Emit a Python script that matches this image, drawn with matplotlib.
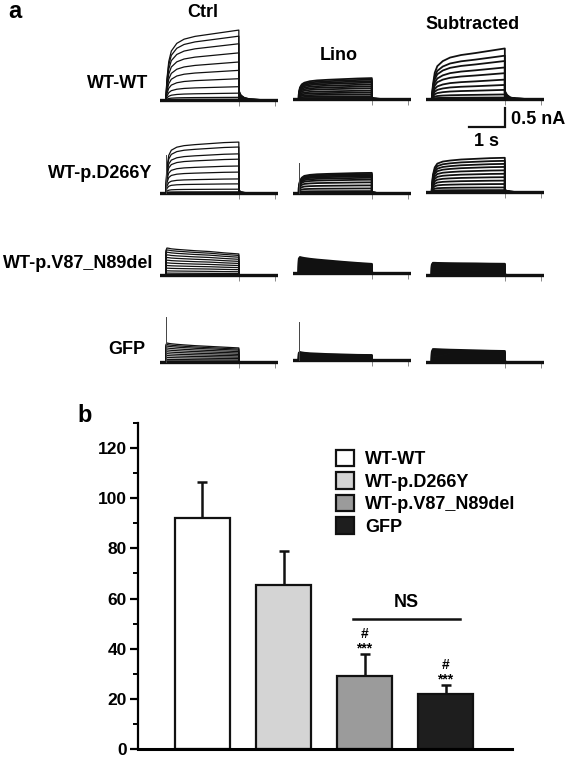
import matplotlib
matplotlib.use("Agg")
import matplotlib.pyplot as plt
from matplotlib.ticker import MultipleLocator
from matplotlib.patches import Patch

plt.rcParams['font.family'] = ['Liberation Sans', 'DejaVu Sans']
plt.rcParams['font.weight'] = 'bold'

# ---------------- data: panel a (current traces, nA vs s) ----------------
row_labels = ['WT-WT', 'WT-p.D266Y', 'WT-p.V87_N89del', 'GFP']
col_titles = ['Ctrl', 'Lino', 'Subtracted']

# shared time points of the voltage-step protocol (s)
t_pts = [-0.16, 0.0, 0.0, 0.03, 0.08, 0.15, 0.3, 0.5, 0.8, 1.2, 1.6, 2.0,
         2.0, 2.06, 2.15, 2.3, 2.6, 3.07]

# normalised time courses (one per panel)
wt_ctrl_shape = [0, 0, 0.02, 0.3, 0.55, 0.7, 0.81, 0.87, 0.91, 0.94, 0.97, 1.0,
                 0.14, 0.07, 0.035, 0.015, 0.005, 0]
wt_lino_shape = [0, 0, 0.25, 0.55, 0.7, 0.78, 0.85, 0.89, 0.92, 0.95, 0.98, 1.0,
                 0.05, 0.02, 0.01, 0, 0, 0]
wt_sub_shape = [0, 0, 0.02, 0.28, 0.52, 0.65, 0.75, 0.82, 0.87, 0.91, 0.955, 1.0,
                0.16, 0.08, 0.03, 0.01, 0, 0]
d266y_ctrl_shape = [0, 0, 0.1, 0.5, 0.74, 0.84, 0.9, 0.93, 0.95, 0.97, 0.99, 1.0,
                    0.06, 0.02, 0.01, 0, 0, 0]
d266y_lino_shape = [0, 0, 0.3, 0.6, 0.76, 0.85, 0.9, 0.93, 0.95, 0.97, 0.99, 1.0,
                    0.04, 0.02, 0, 0, 0, 0]
d266y_sub_shape = [0, 0, 0.1, 0.5, 0.72, 0.83, 0.89, 0.92, 0.95, 0.97, 0.99, 1.0,
                   0.06, 0.03, 0.01, 0, 0, 0]
v87_ctrl_shape = [0, 0, 0.9, 1.0, 0.99, 0.97, 0.95, 0.93, 0.9, 0.87, 0.82, 0.78,
                  0.02, 0.01, 0, 0, 0, 0]
v87_lino_shape = [0, 0, 0.9, 1.0, 0.97, 0.94, 0.89, 0.84, 0.78, 0.7, 0.63, 0.57,
                  0.01, 0, 0, 0, 0, 0]
v87_sub_shape = [0, 0, 0.85, 1.0, 1.0, 0.99, 0.98, 0.97, 0.96, 0.95, 0.93, 0.92,
                 0.02, 0, 0, 0, 0, 0]
gfp_ctrl_shape = [0, 0, 0.9, 1.0, 0.98, 0.96, 0.93, 0.9, 0.86, 0.82, 0.78, 0.74,
                  0.02, 0, 0, 0, 0, 0]
gfp_lino_shape = [0, 0, 0.9, 1.0, 0.95, 0.9, 0.84, 0.8, 0.74, 0.69, 0.64, 0.62,
                  0.01, 0, 0, 0, 0, 0]
gfp_sub_shape = [0, 0, 0.8, 1.0, 1.0, 0.99, 0.97, 0.95, 0.93, 0.9, 0.87, 0.85,
                 0.02, 0, 0, 0, 0, 0]

# amplitudes (nA) of each trace in the family
wt_ctrl_amps = [1.84, 1.68, 1.48, 1.24, 1.0, 0.78, 0.56, 0.35, 0.18, 0.07, 0.02, 0.0]
wt_lino_amps = [0.55, 0.51, 0.47, 0.43, 0.38, 0.33, 0.28, 0.22, 0.17, 0.12, 0.07, 0.03, 0.0]
wt_sub_amps = [1.33, 1.14, 1.0, 0.83, 0.68, 0.51, 0.37, 0.24, 0.12, 0.04, 0.0]
d266y_ctrl_amps = [1.34, 1.21, 1.03, 0.89, 0.71, 0.55, 0.37, 0.24, 0.1, 0.03, 0.0]
d266y_lino_amps = [0.53, 0.5, 0.47, 0.44, 0.4, 0.35, 0.28, 0.2, 0.12, 0.05, 0.0]
d266y_sub_amps = [0.9, 0.82, 0.74, 0.66, 0.57, 0.48, 0.39, 0.3, 0.21, 0.12, 0.05, 0.0]
v87_ctrl_amps = [0.71, 0.66, 0.6, 0.53, 0.46, 0.39, 0.32, 0.25, 0.18, 0.11, 0.05, 0.0]
v87_lino_amps = [0.42, 0.39, 0.36, 0.33, 0.3, 0.27, 0.24, 0.21, 0.18, 0.15, 0.12, 0.09, 0.06, 0.03, 0.0]
v87_sub_amps = [0.32, 0.3, 0.28, 0.26, 0.24, 0.22, 0.2, 0.17, 0.14, 0.11, 0.08, 0.05, 0.02, 0.0]
gfp_ctrl_amps = [0.5, 0.46, 0.42, 0.37, 0.32, 0.27, 0.22, 0.17, 0.12, 0.07, 0.03, 0.0]
gfp_lino_amps = [0.21, 0.19, 0.17, 0.15, 0.13, 0.11, 0.09, 0.07, 0.05, 0.03, 0.01, 0.0]
gfp_sub_amps = [0.34, 0.31, 0.28, 0.25, 0.22, 0.19, 0.16, 0.13, 0.1, 0.07, 0.04, 0.0]

# capacitive transient heights (nA) at step onset
spike_heights = [[0, 0, 0], [1.0, 0.79, 0], [0, 0, 0], [1.18, 1.0, 0]]

scale_time = 1.0   # s
scale_current = 0.5  # nA

# ---------------- data: panel b (bar chart) ----------------
groups = ['WT-WT', 'WT-p.D266Y', 'WT-p.V87_N89del', 'GFP']
means = [92.0, 65.5, 29.0, 22.0]
sems = [14.4, 13.5, 9.0, 3.6]
bar_colors = ['#ffffff', '#d4d4d4', '#9b9b9b', '#1e1e1e']
stars = ['', '', '***', '***']
hashes = ['', '', '#', '#']
ns_y = 51.8
ns_span = (1.86, 3.18)

# ---------------- figure ----------------
W, H = 566, 758
fig = plt.figure(figsize=(W / 100, H / 100), dpi=100)


def fx(px):
    return px / W


def fy(py):
    return 1 - py / H


PX_PER_S = 36.5
PX_PER_NA = 38.0
XLIM = (-0.16, 3.07)
YLIM = (-0.15, 2.0)
ax_w = (XLIM[1] - XLIM[0]) * PX_PER_S
ax_h = (YLIM[1] - YLIM[0]) * PX_PER_NA

col_left = [160, 293, 426]
baselines = [[100, 99, 99], [193, 193, 192], [275, 273, 275], [362, 360, 362]]
shapes = [[wt_ctrl_shape, wt_lino_shape, wt_sub_shape],
          [d266y_ctrl_shape, d266y_lino_shape, d266y_sub_shape],
          [v87_ctrl_shape, v87_lino_shape, v87_sub_shape],
          [gfp_ctrl_shape, gfp_lino_shape, gfp_sub_shape]]
amps = [[wt_ctrl_amps, wt_lino_amps, wt_sub_amps],
        [d266y_ctrl_amps, d266y_lino_amps, d266y_sub_amps],
        [v87_ctrl_amps, v87_lino_amps, v87_sub_amps],
        [gfp_ctrl_amps, gfp_lino_amps, gfp_sub_amps]]
line_w = [[0.9, 1.3, 1.3], [0.9, 1.3, 1.3], [0.9, 1.4, 1.4], [0.9, 1.4, 1.4]]

for r in range(4):
    for c in range(3):
        base = baselines[r][c]
        bottom_px = base - YLIM[0] * PX_PER_NA
        ax = fig.add_axes([fx(col_left[c]), fy(bottom_px), ax_w / W, ax_h / H])
        ax.set_xlim(*XLIM)
        ax.set_ylim(*YLIM)
        shape = shapes[r][c]
        for a in amps[r][c]:
            ax.plot(t_pts, [a * s for s in shape], color='#111111',
                    lw=line_w[r][c], solid_joinstyle='round')
        ax.plot([t_pts[0], t_pts[-1]], [0, 0], color='#111111', lw=2.4)
        sp = spike_heights[r][c]
        if sp > 0:
            ax.plot([0, 0], [0, sp], color='#444444', lw=0.7)
        # small time ticks under the baseline
        for s in ax.spines.values():
            s.set_visible(False)
        ax.spines['bottom'].set_position(('data', 0))
        ax.set_xticks([2.0, 3.0])
        ax.set_xticklabels([])
        ax.set_yticks([])
        ax.tick_params(axis='x', length=4, width=0.6, color='#777777', direction='out')
        ax.patch.set_visible(False)

# scale bar
sb = fig.add_axes([fx(505 - scale_time * PX_PER_S), fy(127),
                   scale_time * PX_PER_S / W, scale_current * PX_PER_NA / H])
sb.set_xlim(0, scale_time)
sb.set_ylim(0, scale_current)
sb.plot([0, scale_time, scale_time], [0, 0, scale_current], color='#111111',
        lw=1.6, clip_on=False, solid_joinstyle='miter')
sb.axis('off')
fig.text(fx(511), fy(124), f'{scale_current} nA', fontsize=13, fontweight='bold',
         ha='left', va='baseline')
fig.text(fx(487), fy(146), f'{scale_time:g} s', fontsize=13, fontweight='bold',
         ha='center', va='baseline')

# panel a texts
fig.text(fx(8), fy(18), 'a', fontsize=17, fontweight='bold', ha='left', va='baseline')
title_pos = [(203, 17), (339, 60), (473, 29)]
for (xp, yp), t in zip(title_pos, col_titles):
    fig.text(fx(xp), fy(yp), t, fontsize=13, fontweight='bold', ha='center', va='baseline')
label_pos = [(148, 88), (152, 178), (153, 268), (145, 354)]
for (xp, yp), t in zip(label_pos, row_labels):
    fig.text(fx(xp), fy(yp), t, fontsize=13, fontweight='bold', ha='right', va='baseline')

# ---------------- panel b ----------------
axb = fig.add_axes([fx(138), fy(749), (512 - 138) / W, (749 - 423) / H])
x = list(range(len(groups)))
bars = axb.bar(x, means, width=0.68, color=bar_colors, edgecolor='#111111',
               linewidth=1.6, zorder=2)
axb.errorbar(x, means, yerr=[[0] * len(sems), sems], fmt='none', ecolor='#111111',
             elinewidth=1.8, capsize=3.5, capthick=1.8, zorder=1)
axb.set_xlim(-0.796, 3.82)
axb.set_ylim(0, 130)
axb.yaxis.set_major_locator(MultipleLocator(20))
axb.yaxis.set_minor_locator(MultipleLocator(10))
axb.set_yticks(range(0, 121, 20))
axb.set_xticks([])
for s in ['top', 'right']:
    axb.spines[s].set_visible(False)
axb.spines['left'].set_linewidth(1.6)
axb.spines['bottom'].set_linewidth(2.2)
axb.tick_params(axis='y', which='major', length=6, width=1.6, labelsize=12.5, pad=2)
axb.tick_params(axis='y', which='minor', length=3.5, width=1.4)
for lab in axb.get_yticklabels():
    lab.set_fontweight('bold')

for xi, m, e, st, hs in zip(x, means, sems, stars, hashes):
    if st:
        axb.annotate(st, (xi, m + e), xytext=(0, -1), textcoords='offset points',
                     ha='center', va='bottom', fontsize=10, fontweight='bold')
        axb.annotate(hs, (xi, m + e), xytext=(0, 9), textcoords='offset points',
                     ha='center', va='bottom', fontsize=10, fontweight='bold')

axb.plot(ns_span, [ns_y, ns_y], color='#111111', lw=1.8)
axb.text(sum(ns_span) / 2, ns_y + 3.2, 'NS', ha='center', va='bottom', fontsize=13,
         fontweight='bold')

handles = [Patch(facecolor=col, edgecolor='#111111', linewidth=1.6) for col in bar_colors]
axb.legend(handles, groups, loc='upper left', bbox_to_anchor=(0.530, 0.918),
           frameon=False, handlelength=1.0, handleheight=1.05,
           handletextpad=0.6, labelspacing=0.22, borderpad=0, borderaxespad=0,
           prop={'weight': 'bold', 'size': 13})

fig.text(fx(77), fy(422), 'b', fontsize=17, fontweight='bold', ha='left', va='baseline')

fig.savefig('out.png', dpi=100)
